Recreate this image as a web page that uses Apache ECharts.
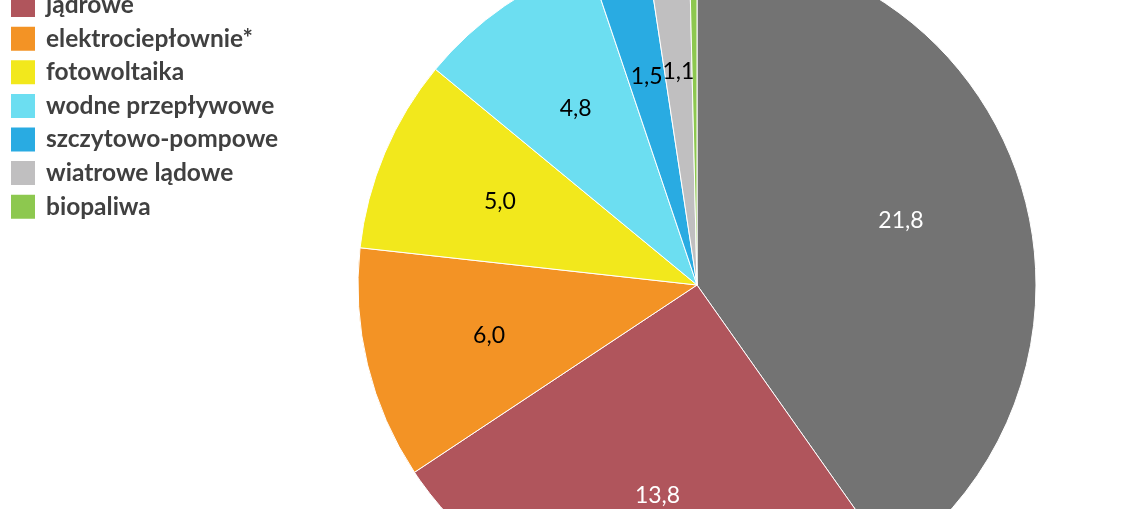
<!DOCTYPE html>
<html><head><meta charset="utf-8">
<script src="https://cdn.jsdelivr.net/npm/echarts@6/dist/echarts.min.js"></script>
<style>html,body{margin:0;padding:0;background:#fff}#c{width:1132px;height:509px}</style>
</head><body><div id="c"></div>
<script>
const categories = ['węglowe','jądrowe','elektrociepłownie*','fotowoltaika','wodne przepływowe','szczytowo-pompowe','wiatrowe lądowe','biopaliwa'];
const values = [21.8, 13.8, 6.0, 5.0, 4.8, 1.5, 1.1, 0.2];
const colors = ['#737373','#b0555c','#f39325','#f2e81c','#6cdef1','#29abe2','#c0bfc0','#8dc84f'];
const labelColors = ['#ffffff','#ffffff','#000000','#000000','#000000','#000000','#000000','#000000'];
const showLabel = [true,true,true,true,true,true,true,false];

const fmt = v => v.toFixed(1).replace('.', ',');
const chart = echarts.init(document.getElementById('c'), null, {renderer:'canvas'});
const center = [697, 285];
chart.setOption({
  animation:false,
  color: colors,
  legend:{
    orient:'vertical', left:9, top:-42.5, padding:0,
    itemWidth:26, itemHeight:26, itemGap:5.6, icon:'rect',
    textStyle:{fontFamily:'Lato', fontSize:24.5, fontWeight:'bold', color:'#404040', lineHeight:26, padding:[0,0,0,5]},
    data: categories
  },
  series:[
    {
      type:'pie', center:center, radius:[0,339], startAngle:90, clockwise:true,
      silent:true,
      itemStyle:{borderColor:'#ffffff', borderWidth:1},
      label:{show:false}, labelLine:{show:false},
      data: categories.map((n,i)=>({name:n, value:values[i], itemStyle:{color:colors[i]}}))
    },
    {
      type:'pie', center:center, radius:[0,422], startAngle:90, clockwise:true,
      silent:true, legendHoverLink:false, avoidLabelOverlap:false,
      minShowLabelAngle:0,
      labelLayout:{hideOverlap:false},
      itemStyle:{color:'rgba(0,0,0,0)', borderWidth:0},
      labelLine:{show:false},
      data: categories.map((n,i)=>({name:n, value:values[i],
        itemStyle:{color:'rgba(0,0,0,0)'},
        label:{show:showLabel[i], position:'inside', formatter:fmt(values[i]),
          rotate:0.0001,
          fontFamily:'Lato', fontSize:23, color:labelColors[i]}}))
    }
  ]
});
</script></body></html>
